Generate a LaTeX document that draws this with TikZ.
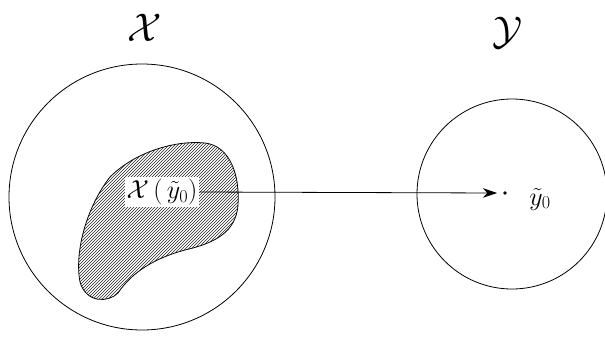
\RequirePackage{fix-cm}
\documentclass[tikz,border=0pt]{standalone}
\usepackage{amsmath,amssymb}
\usepackage{tikz}
\usetikzlibrary{arrows.meta,positioning,calc,patterns}

\begin{document}
\begin{tikzpicture}[x=1pt,y=-1pt,
  set/.style={circle,draw,thick,inner sep=0pt},
  ttl/.style={font=\fontsize{40}{40}\selectfont},
  lbl/.style={fill=white,inner sep=2pt,font=\fontsize{26}{26}\selectfont},
  arr/.style={-{Stealth[length=5mm,width=3.4mm]},thick}
]
\useasboundingbox (0,0) rectangle (605,338);

\node[set,minimum size=266pt] (sx) at (142,197) {};
\node[set,minimum size=190pt] (sy) at (512,194) {};

\node[ttl] (tx) at (145,28) {$\mathcal{X}$};
\node[ttl] (ty) at (508,33) {$\mathcal{Y}$};

% preimage region
\draw[thick,fill=white,postaction={pattern=north east lines,pattern color=black!85}]
  (110,177) .. controls (135,152) and (175,140) .. (205,143)
  .. controls (230,146) and (240,175) .. (238,205)
  .. controls (236,232) and (215,243) .. (185,250)
  .. controls (155,258) and (132,272) .. (118,293)
  .. controls (108,303) and (86,303) .. (80,282)
  .. controls (74,250) and (88,205) .. (110,177) -- cycle;

\node[lbl] (px) at (162,192) {$\mathcal{X}\,(\,\tilde{y}_0)$};
\fill (505,193) circle (1.8pt) coordinate (y0);
\node[font=\fontsize{26}{26}\selectfont] (ly) at (540,199) {$\tilde{y}_0$};

\draw[arr] (px.east) -- ($(y0)+(-8,0)$);
\end{tikzpicture}
\end{document}
